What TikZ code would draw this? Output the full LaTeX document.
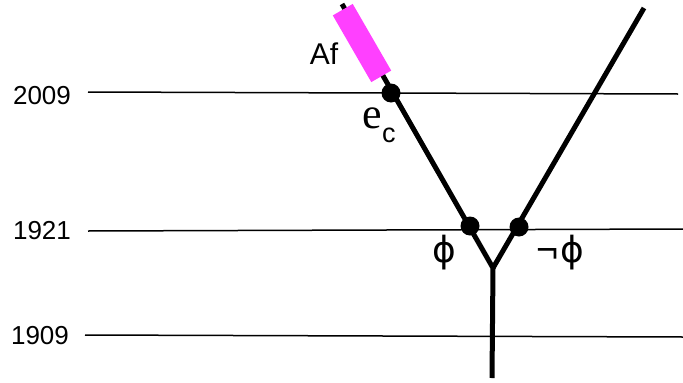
\documentclass[tikz,border=0pt]{standalone}
\usepackage{fontspec}
\setmainfont{Liberation Sans}
\newfontfamily\serifface{Liberation Serif}
\newfontfamily\phiface{DejaVu Sans}
\usetikzlibrary{positioning, calc}

\definecolor{afpink}{RGB}{255,64,255}

\begin{document}
\begin{tikzpicture}[
    x=1pt, y=-1pt,
    year/.style={
        inner sep=0pt,
        font=\fontsize{26}{30}\selectfont
    },
    yearline/.style={
        line width=1.5pt
    },
    branch/.style={
        line width=5pt
    },
    event/.style={
        circle,
        fill=black,
        inner sep=0pt,
        minimum size=19pt
    },
    afbox/.style={
        rectangle,
        fill=afpink,
        inner sep=0pt,
        minimum width=77pt,
        minimum height=23pt,
        rotate=-60
    },
    tag/.style={
        inner sep=0pt,
        font=\fontsize{32}{36}\selectfont
    }
]
\useasboundingbox (0,0) rectangle (683,383);

% Year labels and lines
\node (y2009) [year] at (42,96) {2009};
\node (y1921) [year] at (42,231) {1921};
\node (y1909) [year] at (40,336) {1909};

\coordinate (l2009a) at (88,92);
\coordinate (l2009b) at (678,94);
\coordinate (l1921a) at (88,231);
\coordinate (l1921b) at (683,229);
\coordinate (l1909a) at (85,335);
\coordinate (l1909b) at (683,337);

\draw[yearline] (l2009a) -- (l2009b);
\draw[yearline] (l1921a) -- (l1921b);
\draw[yearline] (l1909a) -- (l1909b);

% Branching worldline
\coordinate (top) at (342,4);
\coordinate (fork) at (493,268);
\coordinate (bottom) at (492,378);
\coordinate (topright) at (644,8);

\draw[branch] (bottom) -- (fork) -- (top);
\draw[branch] (fork) -- (topright);

% Af segment
\node (af) [afbox] at (362,43) {};
\node (aflabel) [tag, font=\fontsize{30}{34}\selectfont] at (324,54) {Af};

% Events
\node (ec) [event] at (391,93) {};
\node (phi) [event] at (470,226) {};
\node (nphi) [event] at (519,227) {};

\node (eclabel) [inner sep=0pt, anchor=base west] at (362,128)
    {{\serifface\fontsize{44}{48}\selectfont e}\kern0.5pt\raisebox{-14pt}{\fontsize{27}{30}\selectfont c}};
\node (philabel) [tag] at (444,253) {\phiface\fontsize{36}{40}\selectfont ϕ};
\node (nphilabel) [tag, anchor=east, font=\fontsize{38}{42}\selectfont] at (584,253)
    {¬\kern1pt{\phiface\fontsize{36}{40}\selectfont ϕ}};

\end{tikzpicture}
\end{document}
